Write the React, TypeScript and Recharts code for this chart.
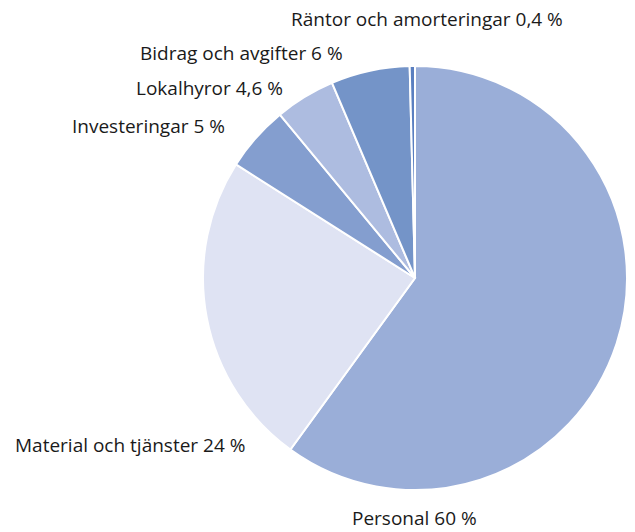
import React from "react";
import { PieChart, Pie, Cell } from "recharts";

const categories = [
  "Personal",
  "Material och tjänster",
  "Investeringar",
  "Lokalhyror",
  "Bidrag och avgifter",
  "Räntor och amorteringar",
];
const values = [60, 24, 5, 4.6, 6, 0.4];
const valueLabels = ["60", "24", "5", "4,6", "6", "0,4"];

const colors = ["#9aaed8", "#dfe3f3", "#849ecf", "#adbce0", "#7494c8", "#5a7fc0"];

// label layout (left x, middle y)
const labelPos = [
  { x: 352, y: 518 },
  { x: 15, y: 445 },
  { x: 72, y: 126 },
  { x: 136, y: 88 },
  { x: 140, y: 53 },
  { x: 291, y: 19 },
];

const data = categories.map((name, i) => ({ name, value: values[i] }));

const renderLabel = (props: any) => {
  const i = props.index;
  const p = labelPos[i];
  return (
    <text
      x={p.x}
      y={p.y}
      fill="#1a1a1a"
      fontSize={19}
      fontFamily="'Open Sans', sans-serif"
      textAnchor="start"
      dominantBaseline="central"
    >
      {`${categories[i]} ${valueLabels[i]} %`}
    </text>
  );
};

const App = () => {
  return (
    <div style={{ position: "absolute", left: 0, top: 0, background: "#fff" }}>
      <PieChart width={635} height={532} margin={{ top: 0, right: 0, bottom: 0, left: 0 }}>
        {/* tårtan */}
        <Pie
          data={data}
          dataKey="value"
          cx={415}
          cy={278}
          outerRadius={212}
          startAngle={90}
          endAngle={-270}
          stroke="#ffffff"
          strokeWidth={2}
          label={renderLabel}
          labelLine={false}
          isAnimationActive={false}
        >
          {data.map((d, i) => (
            <Cell key={d.name} fill={colors[i]} />
          ))}
        </Pie>
      </PieChart>
    </div>
  );
};

export default App;
